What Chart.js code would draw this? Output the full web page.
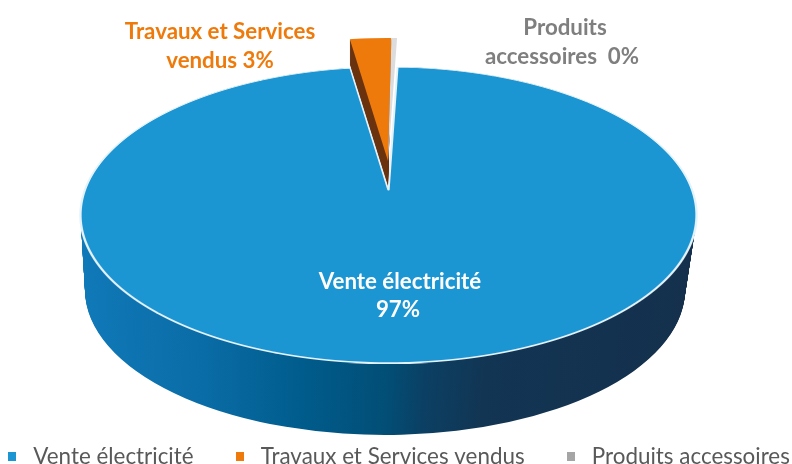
<!DOCTYPE html>
<html lang="fr"><head><meta charset="utf-8">
<style>html,body{margin:0;padding:0;background:#fff}canvas{display:block}</style>
<script src="https://cdn.jsdelivr.net/npm/chart.js@4"></script>
</head><body><canvas id="c" width="792" height="464"></canvas>
<script>
const categories = ['Vente électricité', 'Travaux et Services vendus', 'Produits accessoires'];
const shares = [97.1, 2.55, 0.35];
const sliceColors = ['#1C95D3', '#EE7A0C', '#A5A5A5'];
const labelColors = ['#FFFFFF', '#EE7A0C', '#7F7F7F'];

// Perspective projection: circle -> ellipse whose slice apex sits off-centre.
function projection(cx, y0, rxMax, ryTop, ryBot) {
  const c = (ryTop - ryBot) / (ryTop + ryBot);
  const B = ryTop * (1 - c);
  return { cx, y0, ryTop, ryBot, c, B, A: rxMax * Math.sqrt(1 - c * c) };
}
const topFace = projection(388.5, 190, 308, 123, 173);
const explodedFace = projection(388, 161, 308, 123, 173);
const wallStart = { cx: 388.5, cy: 215, rx: 308, ry: 148 };
const wallEnd = { cx: 385, cy: 290, rx: 300, ry: 145 };
const wallStops = [[0,'#1079B8'],[0.2,'#0A6CA6'],[0.36,'#005C8C'],[0.5,'#024E76'],[0.56,'#0B4064'],[0.66,'#123553'],[1,'#14304D']];
const explodedDepth = 25;

function opts(bg, bw) {
  return { backgroundColor: bg, borderColor: '#E4F3FB', borderWidth: bw, borderAlign: 'center',
    borderJoinStyle: 'round', borderDash: [], borderDashOffset: 0, offset: 0, spacing: 0,
    borderRadius: 0, circular: true, selfJoin: false };
}
function drawPersp(ctx, arc, H, o, dy) {
  const saved = arc.options, R = arc.outerRadius, W = ctx.canvas.width;
  arc.options = o;
  const y1 = Math.floor(H.y0 - H.ryTop), y2 = Math.ceil(H.y0 + H.ryBot);
  for (let y = y1; y <= y2; y++) {
    const w = y + 0.5 - H.y0, v = Math.max(-1, Math.min(1, w / (H.B - w * H.c)));
    const den = 1 + H.c * v, sx = H.A / den / R, sy = H.B / (den * den) / R;
    ctx.save();
    ctx.beginPath(); ctx.rect(0, y + dy, W, 1); ctx.clip();
    ctx.setTransform(sx, 0, 0, sy, H.cx - sx * arc.x, y + 0.5 + dy - sy * (arc.y + v * R));
    arc.draw(ctx);
    ctx.restore();
  }
  arc.options = saved;
}
function legendMarker(color) {
  const m = document.createElement('canvas');
  m.width = 8; m.height = 9;
  const c = m.getContext('2d');
  c.fillStyle = color; c.fillRect(0, 0, 8, 9);
  return m;
}
const pie3d = {
  id: 'pie3d',
  beforeDatasetsDraw(chart) {
    const ctx = chart.ctx, arcs = chart.getDatasetMeta(0).data, a = arcs[0], R = a.outerRadius;
    const g = ctx.createLinearGradient(a.x - R, 0, a.x + R, 0);
    wallStops.forEach(s => g.addColorStop(s[0], s[1]));
    const saved = a.options; a.options = opts(g, 0);
    const n = wallEnd.cy - wallStart.cy;
    for (let i = n; i >= 0; i--) {
      const t = i / n, m = k => wallStart[k] + (wallEnd[k] - wallStart[k]) * t;
      const sx = m('rx') / R, sy = m('ry') / R;
      ctx.save();
      ctx.setTransform(sx, 0, 0, sy, m('cx') - sx * a.x, m('cy') - sy * a.y);
      a.draw(ctx);
      ctx.restore();
    }
    a.options = saved;
    const bw = 1.1 * R / 148;
    drawPersp(ctx, a, topFace, opts(sliceColors[0], bw), 0);
    for (let d = explodedDepth; d > 0; d -= 1) drawPersp(ctx, arcs[1], explodedFace, opts('#6B3410', 0), d);
    drawPersp(ctx, arcs[1], explodedFace, opts(sliceColors[1], 0), 0);
    drawPersp(ctx, arcs[2], explodedFace, opts('#DCDCDC', 0), 0);
    return false;
  },
  afterDraw(chart) {
    const ctx = chart.ctx;
    const total = shares.reduce((s, v) => s + v, 0);
    const pct = shares.map(v => Math.round(v / total * 100) + '%');
    ctx.save();
    ctx.font = 'bold 22.3px Lato';
    ctx.textAlign = 'center'; ctx.textBaseline = 'middle';
    ctx.fillStyle = labelColors[0];
    ctx.fillText(categories[0], 400, 282);
    ctx.fillText(pct[0], 398, 310);
    ctx.fillStyle = labelColors[1];
    ctx.fillText('Travaux et Services', 220, 32);
    ctx.fillText('vendus ' + pct[1], 220, 61);
    ctx.fillStyle = labelColors[2];
    ctx.fillText('Produits', 565, 28);
    ctx.fillText('accessoires  ' + pct[2], 562, 57);
    ctx.restore();
  }
};
new Chart(document.getElementById('c'), {
  type: 'pie',
  data: { labels: categories, datasets: [{ data: shares, backgroundColor: sliceColors, borderWidth: 0 }] },
  options: {
    responsive: false, animation: false, rotation: 2,
    layout: { padding: { left: -40, right: -40, bottom: -14, top: 0 } },
    plugins: {
      tooltip: { enabled: false },
      legend: { position: 'bottom', align: 'center',
        labels: {
          usePointStyle: true, pointStyleWidth: 20, boxHeight: 8, padding: 36,
          color: '#595959', font: { family: 'Lato', size: 22.4 },
          generateLabels(chart) {
            return Chart.overrides.pie.plugins.legend.labels.generateLabels(chart)
              .map((item, i) => Object.assign(item, { pointStyle: legendMarker(sliceColors[i]) }));
          }
        } }
    }
  },
  plugins: [pie3d]
});
</script></body></html>
